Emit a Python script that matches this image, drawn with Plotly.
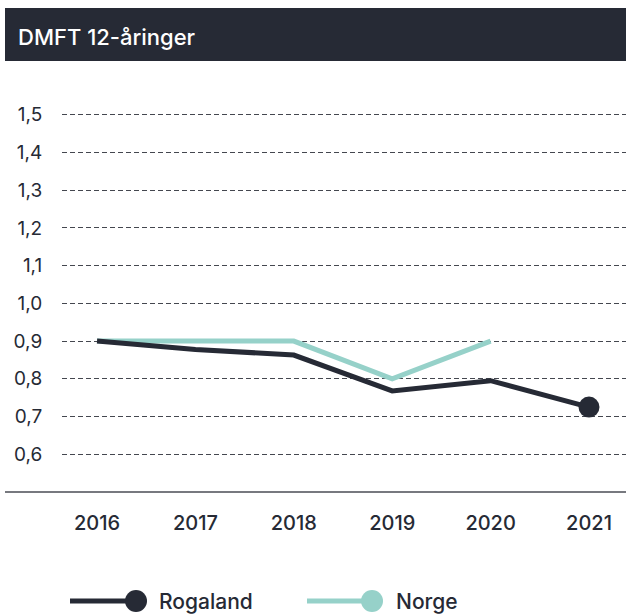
import plotly.graph_objects as go

years = [2016, 2017, 2018, 2019, 2020, 2021]
rogaland = [0.90, 0.878, 0.863, 0.768, 0.795, 0.725]
norge_years = [2016, 2017, 2018, 2019, 2020]
norge = [0.90, 0.90, 0.90, 0.80, 0.90]
y_ticks = [0.6, 0.7, 0.8, 0.9, 1.0, 1.1, 1.2, 1.3, 1.4, 1.5]
title_text = "DMFT 12-åringer"
series_names = ["Rogaland", "Norge"]

DARK = "#262a35"
TEAL = "#96d1c9"
W, H = 626, 614
L, R, T, B = 62, 0, 77, 122
PW, PH = W - L - R, H - T - B

def px(x):
    return (x - L) / PW

def py(y):
    return (H - B - y) / PH

fig = go.Figure()
fig.add_trace(go.Scatter(x=norge_years, y=norge, mode="lines", name=series_names[1],
                         line=dict(color=TEAL, width=5), showlegend=False))
fig.add_trace(go.Scatter(x=years, y=rogaland, mode="lines", name=series_names[0],
                         line=dict(color=DARK, width=5), showlegend=False))
fig.add_trace(go.Scatter(x=years[-1:], y=rogaland[-1:], mode="markers",
                         marker=dict(color=DARK, size=21), showlegend=False))

font = "Inter, Lato, sans-serif"
shapes = [
    dict(type="rect", xref="paper", yref="paper", x0=px(5), x1=px(626), y0=py(8), y1=py(61),
         fillcolor=DARK, line=dict(width=0), layer="below"),
    dict(type="line", xref="paper", yref="paper", x0=px(5), x1=px(626), y0=0, y1=0,
         line=dict(color="#4a4d55", width=1.5)),
]
annotations = [
    dict(text=title_text, xref="paper", yref="paper", x=px(16), y=py(37), xanchor="left",
         yanchor="middle", showarrow=False, font=dict(family=font, size=22, color="white", weight=500)),
]
# custom legend
leg = [(70, 136, 157, series_names[0], DARK), (307, 372, 394, series_names[1], TEAL)]
for x0, xc, xt, name, col in leg:
    shapes.append(dict(type="line", xref="paper", yref="paper", x0=px(x0), x1=px(xc), y0=py(601), y1=py(601),
                       line=dict(color=col, width=5)))
    shapes.append(dict(type="circle", xref="paper", yref="paper", x0=px(xc - 11), x1=px(xc + 11),
                       y0=py(612), y1=py(590), fillcolor=col, line=dict(width=0)))
    annotations.append(dict(text=name, xref="paper", yref="paper", x=px(xt), y=py(601), xanchor="left",
                            yanchor="middle", showarrow=False,
                            font=dict(family=font, size=21, color=DARK, weight=500)))

fig.update_layout(
    width=W, height=H, margin=dict(l=L, r=R, t=T, b=B),
    paper_bgcolor="white", plot_bgcolor="white",
    separators=", ",
    shapes=shapes, annotations=annotations,
    xaxis=dict(range=[2015.644, 2021.376], tickvals=years, ticktext=[str(y) for y in years],
               showgrid=False, zeroline=False, ticks="outside", ticklen=13, tickcolor="rgba(0,0,0,0)",
               tickfont=dict(family=font, size=20, color=DARK, weight=500)),
    yaxis=dict(range=[0.5, 1.6], tickvals=y_ticks, tickformat=".1f",
               showgrid=True, gridcolor="#44474f", gridwidth=1, griddash="5px,3px", zeroline=False,
               ticks="outside", ticklen=15, tickcolor="rgba(0,0,0,0)",
               tickfont=dict(family=font, size=19, color=DARK)),
)
fig.write_html("out.html", config={"displayModeBar": False},
               post_script="document.body.style.margin='0';document.body.style.padding='0';")
